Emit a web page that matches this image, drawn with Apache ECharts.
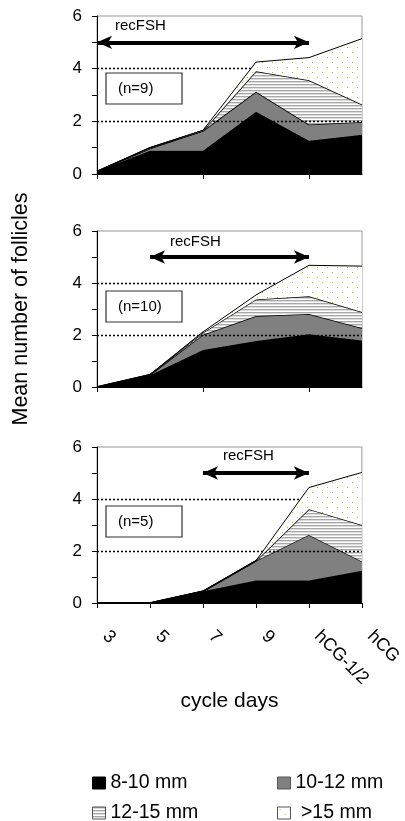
<!DOCTYPE html>
<html>
<head>
<meta charset="utf-8">
<script src="https://cdn.jsdelivr.net/npm/echarts@6/dist/echarts.min.js"></script>
<style>
html,body{margin:0;padding:0;background:#fff;}
#chart{width:405px;height:821px;}
</style>
</head>
<body>
<div id="chart"></div>
<script>
// ---- data ----
const days = ['3', '5', '7', '9', 'hCG-1/2', 'hCG'];
const sizeNames = ['8-10 mm', '10-12 mm', '12-15 mm', '>15 mm'];
const yTickValues = [0, 2, 4, 6];
const refLevels = [2, 4];
const panelLabels = ['(n=9)', '(n=10)', '(n=5)'];
const fshStartDay = ['3', '5', '7'];
const fshEndDay = 'hCG-1/2';
const fshLevel = 5;

// panel 1 (n=9)
const p1_8to10  = [0.10, 0.88, 0.88, 2.36, 1.26, 1.49];
const p1_10to12 = [0.00, 0.09, 0.76, 0.76, 0.62, 0.48];
const p1_12to15 = [0.00, 0.03, 0.00, 0.78, 1.68, 0.67];
const p1_gt15   = [0.00, 0.00, 0.02, 0.35, 0.86, 2.50];
// panel 2 (n=10)
const p2_8to10  = [0.00, 0.45, 1.42, 1.77, 2.03, 1.79];
const p2_10to12 = [0.00, 0.02, 0.59, 0.96, 0.78, 0.48];
const p2_12to15 = [0.00, 0.00, 0.08, 0.64, 0.68, 0.61];
const p2_gt15   = [0.00, 0.00, 0.03, 0.17, 1.19, 1.77];
// panel 3 (n=5)
const p3_8to10  = [0.00, 0.00, 0.45, 0.87, 0.87, 1.24];
const p3_10to12 = [0.00, 0.00, 0.00, 0.75, 1.75, 0.36];
const p3_12to15 = [0.00, 0.00, 0.00, 0.00, 0.99, 1.40];
const p3_gt15   = [0.00, 0.00, 0.00, 0.00, 0.83, 2.02];

const panels = [
  [p1_8to10, p1_10to12, p1_12to15, p1_gt15],
  [p2_8to10, p2_10to12, p2_12to15, p2_gt15],
  [p3_8to10, p3_10to12, p3_12to15, p3_gt15]
];

// ---- patterns ----
function makeStripes() {
  const c = document.createElement('canvas');
  c.width = 4; c.height = 3;
  const g = c.getContext('2d');
  g.fillStyle = '#fff'; g.fillRect(0, 0, 4, 3);
  g.fillStyle = '#a8a8a8'; g.fillRect(0, 0, 4, 1);
  g.fillStyle = '#dcdcdc'; g.fillRect(0, 1, 4, 1);
  return c;
}
function makeDots() {
  const c = document.createElement('canvas');
  c.width = 10; c.height = 10;
  const g = c.getContext('2d');
  g.fillStyle = '#fff'; g.fillRect(0, 0, 10, 10);
  g.fillStyle = '#a8d000';
  g.fillRect(2, 2, 1, 1);
  g.fillRect(7, 7, 1, 1);
  return c;
}
const stripePat = { image: makeStripes(), repeat: 'repeat' };
const dotPat = { image: makeDots(), repeat: 'repeat' };

const fills = ['#000000', '#808080', stripePat, dotPat];
const lineWidths = [1, 1.5, 1.5, 1];
const FONT = 'Liberation Sans, Arial, sans-serif';

const gridTops = [16, 231, 447];
const gridHeights = [158, 156, 156];

const grids = [], xAxes = [], yAxes = [], series = [];
for (let i = 0; i < 3; i++) {
  grids.push({
    left: 97, width: 265, top: gridTops[i], height: gridHeights[i],
    show: true, borderColor: '#999', borderWidth: 1, backgroundColor: 'transparent'
  });
  const last = i === 2;
  xAxes.push({
    type: 'category', gridIndex: i, data: days, boundaryGap: false,
    axisLine: { lineStyle: { color: '#000', width: 1 } },
    axisTick: { show: true, length: 5, lineStyle: { color: '#000' } },
    axisLabel: last ? {
      show: true, rotate: -45, margin: 22, color: '#000',
      fontSize: 18, fontFamily: FONT, padding: [0, 0, 0, 12]
    } : { show: false },
    name: last ? 'cycle days' : '',
    nameLocation: 'middle', nameGap: 86,
    nameTextStyle: { fontSize: 21, color: '#000', fontFamily: FONT },
    splitLine: { show: false }
  });
  yAxes.push({
    type: 'value', gridIndex: i, min: 0, max: 6, interval: 1,
    axisLine: { show: true, lineStyle: { color: '#000', width: 1 } },
    axisTick: { show: true, length: 5, lineStyle: { color: '#000' } },
    axisLabel: {
      color: '#000', fontSize: 17, fontFamily: FONT, margin: 15,
      formatter: v => (yTickValues.indexOf(v) >= 0 ? String(v) : '')
    },
    splitLine: { show: false },
    name: i === 1 ? 'Mean number of follicles' : '',
    nameLocation: 'middle', nameGap: 65, nameRotate: 90,
    nameTextStyle: { fontSize: 21.5, color: '#000', fontFamily: FONT }
  });
  // reference dotted lines (behind areas)
  series.push({
    type: 'line', name: 'ref' + i, xAxisIndex: i, yAxisIndex: i, data: [],
    z: 1, silent: true,
    markLine: {
      silent: true, symbol: 'none', label: { show: false },
      lineStyle: { color: '#000', type: [2, 2], width: 1.3 },
      data: refLevels.map(v => ({ yAxis: v }))
    }
  });
  // stacked areas
  panels[i].forEach((vals, k) => {
    series.push({
      type: 'line', name: sizeNames[k], xAxisIndex: i, yAxisIndex: i,
      stack: 'p' + i, data: vals, symbol: 'none', z: 2 + k,
      itemStyle: { color: k < 2 ? fills[k] : '#ffffff' },
      lineStyle: { color: '#000', width: lineWidths[k] },
      areaStyle: { color: fills[k], opacity: 1 },
      emphasis: { disabled: true }
    });
  });
  // recFSH arrow
  series.push({
    type: 'line', name: 'fsh' + i, xAxisIndex: i, yAxisIndex: i, data: [],
    z: 10, silent: true,
    markLine: {
      silent: true, symbol: ['arrow', 'arrow'], symbolSize: [10, 15],
      label: { show: false },
      lineStyle: { color: '#000', type: 'solid', width: 4 },
      data: [[{ coord: [fshStartDay[i], fshLevel] }, { coord: [fshEndDay, fshLevel] }]]
    }
  });
}

const fshTextX = [142, 197, 250];
const fshTextY = [27, 243, 457];
const graphic = [];
for (let i = 0; i < 3; i++) {
  graphic.push({
    type: 'text', left: fshTextX[i] - 27, top: fshTextY[i] - 9, z: 20,
    style: { text: 'recFSH', font: '15px ' + FONT, fill: '#000' }
  });
  const by = [73, 291, 506][i];
  graphic.push({
    type: 'rect', shape: { x: 106, y: by, width: 76, height: 31 }, z: 20,
    style: { fill: '#fff', stroke: '#333', lineWidth: 1.2 }
  });
  graphic.push({
    type: 'text', x: 118, y: by + 15.5, z: 21,
    style: { text: panelLabels[i], font: '15px ' + FONT, fill: '#000', verticalAlign: 'middle' }
  });
}

const legendItem = (name, k) => ({
  name: name,
  itemStyle: { color: fills[k], borderColor: k === 0 ? '#000' : '#555', borderWidth: 1 }
});
const legendCommon = {
  orient: 'horizontal', itemWidth: 13, itemHeight: 12, itemGap: 10,
  icon: 'rect', selectedMode: false, padding: 0,
  textStyle: { fontSize: 19.5, color: '#000', fontFamily: FONT },
  formatter: n => (n === '>15 mm' ? ' ' + n : n)
};
const legendLeft = [92, 277, 92, 277];
const legendTop = [773, 773, 803, 803];

const option = {
  animation: false,
  backgroundColor: '#fff',
  grid: grids,
  xAxis: xAxes,
  yAxis: yAxes,
  series: series,
  graphic: graphic,
  legend: sizeNames.map((nm, k) => Object.assign({}, legendCommon, {
    left: legendLeft[k], top: legendTop[k], data: [legendItem(nm, k)]
  }))
};

const chart = echarts.init(document.getElementById('chart'));
chart.setOption(option);
</script>
</body>
</html>
